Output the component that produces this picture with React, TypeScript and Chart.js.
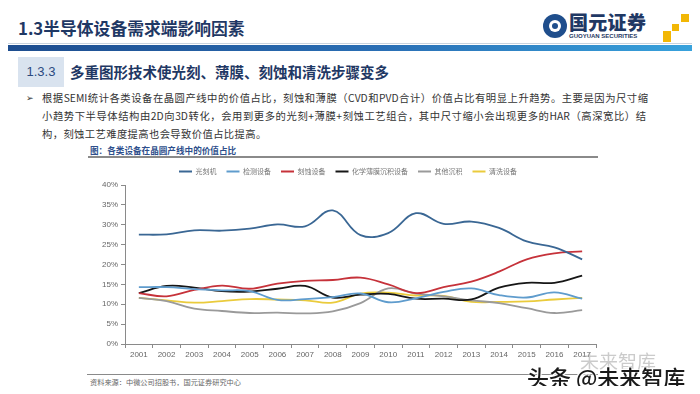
import React, { useEffect, useRef } from "react";
import { Chart, registerables } from "chart.js";

Chart.register(...registerables);

const years = ["2001", "2002", "2003", "2004", "2005", "2006", "2007", "2008", "2009", "2010", "2011", "2012", "2013", "2014", "2015", "2016", "2017"];
const seriesNames = ["光刻机", "检测设备", "刻蚀设备", "化学薄膜沉积设备", "其他沉积", "清洗设备"];
const litho = [27.5, 27.6, 28.6, 28.5, 29.0, 30.1, 29.6, 33.6, 27.4, 27.9, 32.9, 30.2, 30.8, 29.2, 25.8, 24.3, 21.3];
const inspection = [14.3, 14.3, 13.8, 13.5, 13.3, 11.1, 11.3, 11.8, 12.7, 10.5, 11.5, 13.1, 14.0, 12.3, 11.7, 13.0, 11.4];
const etch = [12.8, 12.0, 13.6, 14.7, 13.9, 15.2, 15.9, 16.1, 16.7, 15.0, 12.8, 14.3, 15.7, 18.2, 21.3, 22.8, 23.3];
const cvd = [12.8, 14.6, 14.2, 13.3, 13.2, 13.9, 14.6, 11.7, 12.4, 12.6, 11.4, 11.4, 11.2, 14.2, 15.4, 15.4, 17.2];
const otherDep = [11.6, 10.8, 8.9, 8.3, 7.8, 7.9, 7.7, 8.2, 10.3, 14.0, 12.7, 12.0, 11.0, 10.3, 9.0, 7.8, 8.5];
const cleaning = [11.6, 11.0, 10.4, 10.8, 11.3, 11.2, 11.0, 10.4, 12.7, 12.9, 12.2, 12.1, 10.6, 10.6, 10.7, 11.2, 11.6];
const seriesColors = ["#3A6794", "#5F9CCD", "#C6323A", "#161616", "#9A9A9A", "#EACB3C"];
const yMin = 0;
const yMax = 40;
const yStep = 5;

const CJK = "'Noto Sans CJK SC', 'Noto Sans', sans-serif";
const NAVY = "#1F3864";

const legendShift = {
  id: "legendShift",
  afterLayout(chart: any) {
    if (chart.legend) {
      chart.legend.left += 20;
      chart.legend.right += 20;
    }
  },
};

function LineChart() {
  const ref = useRef<HTMLCanvasElement>(null);
  useEffect(() => {
    const canvas = ref.current;
    if (!canvas) return;
    const values = [litho, inspection, etch, cvd, otherDep, cleaning];
    const chart = new Chart(canvas, {
      type: "line",
      data: {
        labels: years,
        datasets: values.map((d, i) => ({
          label: seriesNames[i],
          data: d,
          borderColor: seriesColors[i],
          backgroundColor: seriesColors[i],
          borderWidth: 1.8,
          pointRadius: 0,
          tension: 0.4,
          fill: false,
        })),
      },
      options: {
        animation: false,
        responsive: false,
        maintainAspectRatio: false,
        layout: { padding: { left: 0, right: 24, top: 4, bottom: 0 } },
        plugins: {
          tooltip: { enabled: false },
          legend: {
            position: "top",
            labels: {
              boxWidth: 13,
              boxHeight: 2,
              padding: 10,
              color: "#777",
              font: { size: 7, family: CJK },
              generateLabels: (c: any) =>
                (Chart.defaults.plugins.legend.labels as any).generateLabels(c).map((l: any) => ({ ...l, lineWidth: 0 })),
            },
          },
        },
        scales: {
          x: {
            offset: true,
            grid: { offset: true, drawOnChartArea: false, tickLength: 4, color: "#8a8a8a" },
            border: { color: "#8a8a8a" },
            ticks: { color: "#666", font: { size: 8, family: "'Liberation Sans', Arial, sans-serif" }, padding: 2, maxRotation: 0, autoSkip: false },
            afterFit: (s: any) => {
              s.height = 21;
            },
          },
          y: {
            min: yMin,
            max: yMax,
            grid: { drawOnChartArea: false, tickLength: 4, color: "#8a8a8a" },
            border: { color: "#8a8a8a" },
            ticks: {
              stepSize: yStep,
              color: "#666",
              padding: 3,
              font: { size: 8, family: "'Liberation Sans', Arial, sans-serif" },
              callback: (v: any) => v + "%",
            },
            afterFit: (s: any) => {
              s.width = 65;
            },
          },
        },
      },
      plugins: [legendShift],
    });
    return () => chart.destroy();
  }, []);
  return (
    <canvas
      ref={ref}
      width={560}
      height={211}
      style={{ position: "absolute", left: 60, top: 154, width: 560, height: 211 }}
    />
  );
}

export default function App() {
  const abs = (s: React.CSSProperties): React.CSSProperties => ({ position: "absolute", ...s });
  return (
    <div style={{ position: "relative", width: 700, height: 394, background: "#fff", overflow: "hidden", margin: -8, fontFamily: CJK }}>
      {/* Title */}
      <div style={abs({ left: 18, top: 17, fontSize: 16.8, fontWeight: 700, color: NAVY, whiteSpace: "nowrap", lineHeight: "22px" })}>
        1.3半导体设备需求端影响因素
      </div>
      {/* Logo */}
      <div style={abs({ left: 543, top: 14, width: 24, height: 24, borderRadius: "50%", background: "#1F4E8C" })} />
      <div style={abs({ left: 549, top: 20, width: 12, height: 12, borderRadius: "50%", background: "#fff" })} />
      <div style={abs({ left: 552, top: 23, width: 6, height: 6, borderRadius: "50%", background: "#1F4E8C" })} />
      <div style={abs({ left: 569, top: 10, fontSize: 19, fontWeight: 900, color: NAVY, whiteSpace: "nowrap", lineHeight: "24px", letterSpacing: 0.3 })}>
        国元证券
      </div>
      <div style={abs({ left: 569, top: 33, fontSize: 6, fontWeight: 700, color: NAVY, whiteSpace: "nowrap", lineHeight: "7px", fontFamily: "'Liberation Sans', Arial, sans-serif" })}>
        GUOYUAN SECURITIES
      </div>
      <div style={abs({ left: 681, top: 14, width: 8, height: 8, background: "#F2B705" })} />
      <div style={abs({ left: 672, top: 24, width: 7, height: 7, background: "#F2B705" })} />
      <div style={abs({ left: 663, top: 31, width: 8, height: 11, background: "#F2B705" })} />
      {/* Bar */}
      <div style={abs({ left: 0, top: 43, width: 700, height: 1, background: "#c9d3de" })} />
      <div style={abs({ left: 0, top: 45, width: 700, height: 6, background: "linear-gradient(90deg, #1D4C8E 0%, #2A6FB5 55%, #38A3DD 100%)" })} />
      {/* Section box */}
      <div style={abs({ left: 18, top: 57, width: 46, height: 30, background: "#D9E3EF", color: "#2A4A7F", fontSize: 13, lineHeight: "30px", textAlign: "center", fontFamily: "'Liberation Sans', Arial, sans-serif" })}>
        1.3.3
      </div>
      <div style={abs({ left: 70, top: 61, fontSize: 14.5, fontWeight: 700, color: NAVY, whiteSpace: "nowrap", lineHeight: "22px" })}>
        多重图形技术使光刻、薄膜、刻蚀和清洗步骤变多
      </div>
      {/* Paragraph */}
      <div style={abs({ left: 26, top: 90, fontSize: 9, color: "#333", lineHeight: "16px" })}>➢</div>
      <div style={abs({ left: 42, top: 90, width: 606, fontSize: 10.3, color: "#333", lineHeight: "16px", whiteSpace: "nowrap", textAlign: "justify", textAlignLast: "justify" as any })}>
        根据SEMI统计各类设备在晶圆产线中的价值占比，刻蚀和薄膜（CVD和PVD合计）价值占比有明显上升趋势。主要是因为尺寸缩
      </div>
      <div style={abs({ left: 42, top: 108, width: 604, fontSize: 10.3, color: "#333", lineHeight: "16px", whiteSpace: "nowrap", textAlign: "justify", textAlignLast: "justify" as any })}>
        小趋势下半导体结构由2D向3D转化，会用到更多的光刻+薄膜+刻蚀工艺组合，其中尺寸缩小会出现更多的HAR（高深宽比）结
      </div>
      <div style={abs({ left: 42, top: 126, fontSize: 10.3, color: "#333", lineHeight: "16px", whiteSpace: "nowrap", letterSpacing: 0.4 })}>
        构，刻蚀工艺难度提高也会导致价值占比提高。
      </div>
      {/* Caption */}
      <div style={abs({ left: 90, top: 144, fontSize: 8.6, fontWeight: 700, color: "#2E4F8C", whiteSpace: "nowrap", lineHeight: "12px" })}>
        图：各类设备在晶圆产线中的价值占比
      </div>
      <div style={abs({ left: 88, top: 156, width: 510, height: 1.5, background: "#8a8a8a" })} />
      <LineChart />
      {/* Source */}
      <div style={abs({ left: 87, top: 374, width: 511, height: 1, background: "#8a8a8a" })} />
      <div style={abs({ left: 90, top: 377, fontSize: 7.2, color: "#666", whiteSpace: "nowrap", lineHeight: "11px" })}>
        资料来源：中微公司招股书，国元证券研究中心
      </div>
      {/* Watermark */}
      <div style={abs({ left: 580, top: 349, fontSize: 19, color: "rgba(160,160,160,0.55)", whiteSpace: "nowrap", lineHeight: "24px" })}>
        未来智库
      </div>
      <div style={abs({ left: 527, top: 362, fontSize: 22, fontWeight: 500, color: "#1a1a1a", whiteSpace: "nowrap", lineHeight: "28px", textShadow: "0 0 2px #fff, 0 0 2px #fff, 1px 1px 0 #fff, -1px -1px 0 #fff" })}>
        头条 @未来智库
      </div>
    </div>
  );
}
